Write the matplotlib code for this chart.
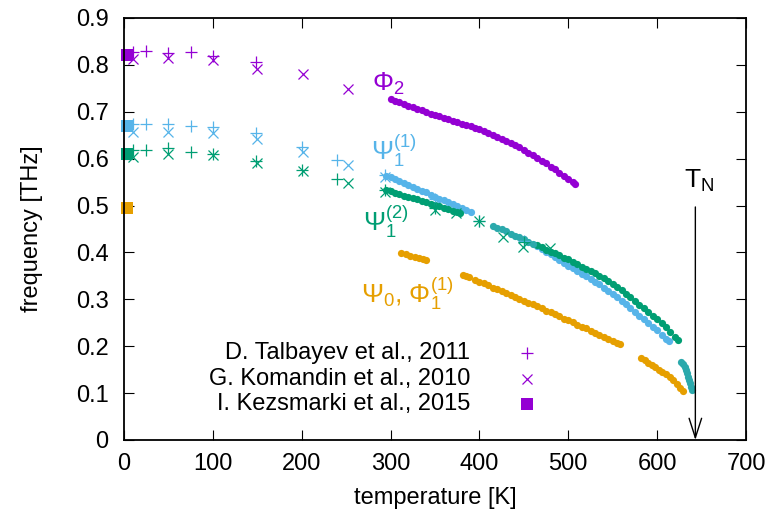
import matplotlib
matplotlib.use("Agg")
import matplotlib.pyplot as plt

plt.rcParams['font.family'] = ['Liberation Sans', 'DejaVu Sans']

PURPLE = '#9400D3'
BLUE = '#56B4E9'
GREEN = '#009E73'
ORANGE = '#E69F00'
TEAL = '#2BA9AC'

# ---- literature data: D. Talbayev et al. 2011 (+) ----
tal_phi2_T = [10, 25, 50, 75, 100, 149]
tal_phi2_f = [0.828, 0.830, 0.825, 0.827, 0.819, 0.806]
tal_psi11_T = [10, 25, 50, 75, 100, 149, 200, 240, 294, 350, 400, 450]
tal_psi11_f = [0.675, 0.673, 0.674, 0.669, 0.667, 0.654, 0.625, 0.598, 0.565, 0.515, 0.466, 0.425]
tal_psi12_T = [10, 25, 50, 75, 100, 149, 200, 240, 294, 350, 400, 450]
tal_psi12_f = [0.618, 0.619, 0.622, 0.615, 0.611, 0.595, 0.576, 0.556, 0.533, 0.494, 0.466, 0.423]

# ---- G. Komandin et al. 2010 (x) ----
kom_phi2_T = [10, 50, 100, 150, 201, 252]
kom_phi2_f = [0.812, 0.814, 0.810, 0.792, 0.780, 0.748]
kom_psi11_T = [10, 50, 100, 150, 201, 252, 294]
kom_psi11_f = [0.657, 0.657, 0.655, 0.641, 0.615, 0.586, 0.560]
kom_psi12_T = [10, 50, 100, 150, 201, 252, 294, 350, 374, 399, 427, 449, 479]
kom_psi12_f = [0.604, 0.610, 0.608, 0.591, 0.574, 0.549, 0.529, 0.490, 0.484, 0.466, 0.433, 0.412, 0.410]

# ---- I. Kezsmarki et al. 2015 (squares) ----
kez_T = [3, 3, 3, 3]
kez_f = [0.822, 0.670, 0.611, 0.495]
kez_colors = [PURPLE, BLUE, GREEN, ORANGE]

# ---- measured modes (dots) ----
phi2_T = [300, 305, 310, 315, 320, 325, 330, 335, 340, 345, 350, 355, 360, 365,
          370, 375, 380, 385, 390, 395, 400, 405, 410, 415, 420, 425, 430, 435,
          440, 445, 450, 455, 460, 465, 470, 475, 480, 485, 490, 495, 500, 505, 508]
phi2_f = [0.727, 0.723, 0.720, 0.716, 0.713, 0.710, 0.706, 0.703, 0.699, 0.696,
          0.693, 0.690, 0.687, 0.684, 0.681, 0.678, 0.675, 0.672, 0.669, 0.666,
          0.663, 0.659, 0.655, 0.651, 0.647, 0.643, 0.638, 0.634, 0.629, 0.624,
          0.619, 0.613, 0.608, 0.602, 0.596, 0.590, 0.583, 0.577, 0.570, 0.563,
          0.556, 0.550, 0.546]

psi11_a_T = [295, 300, 305, 310, 315, 320, 325, 330, 335, 340, 345, 350, 355,
             360, 365, 370, 375, 380, 385, 390]
psi11_a_f = [0.564, 0.560, 0.556, 0.552, 0.548, 0.544, 0.540, 0.536, 0.532,
             0.528, 0.523, 0.519, 0.515, 0.511, 0.507, 0.503, 0.499, 0.495,
             0.491, 0.487]
psi11_b_T = [465, 470, 475, 480, 485, 490, 495, 500, 505, 510, 515, 520, 525,
             530, 535, 540, 545, 550, 555, 560, 565, 570, 575, 580, 585, 590,
             595, 600, 605, 610, 613]
psi11_b_f = [0.413, 0.407, 0.402, 0.396, 0.390, 0.384, 0.378, 0.372, 0.367,
             0.361, 0.355, 0.350, 0.344, 0.338, 0.332, 0.325, 0.318, 0.311,
             0.304, 0.296, 0.289, 0.281, 0.273, 0.265, 0.258, 0.250, 0.242,
             0.234, 0.225, 0.216, 0.211]

psi12_a_T = [295, 300, 305, 310, 315, 320, 325, 330, 335, 340, 345, 350, 355,
             360, 365, 370, 375, 378]
psi12_a_f = [0.533, 0.530, 0.527, 0.524, 0.521, 0.519, 0.516, 0.513, 0.510,
             0.507, 0.504, 0.501, 0.498, 0.495, 0.492, 0.489, 0.487, 0.485]
psi12_b_T = [465, 470, 475, 480, 485, 490, 495, 500, 505, 510, 515, 520, 525,
             530, 535, 540, 545, 550, 555, 560, 565, 570, 575, 580, 585, 590,
             595, 600, 605, 610, 615, 620, 623]
psi12_b_f = [0.415, 0.411, 0.406, 0.402, 0.398, 0.394, 0.389, 0.385, 0.380,
             0.375, 0.370, 0.365, 0.360, 0.356, 0.350, 0.345, 0.339, 0.333,
             0.326, 0.319, 0.312, 0.304, 0.296, 0.288, 0.281, 0.273, 0.265,
             0.257, 0.249, 0.240, 0.230, 0.220, 0.214]

# overlapping psi1 branches (blue + green)
psi1_merged_a_T = [415, 420, 425, 430, 435, 440, 445, 450, 455, 460]
psi1_merged_a_f = [0.457, 0.453, 0.449, 0.445, 0.440, 0.436, 0.432, 0.428, 0.423, 0.419]
psi1_merged_b_T = [627, 629, 631, 633, 634, 635, 636, 637, 638, 639]
psi1_merged_b_f = [0.167, 0.163, 0.156, 0.149, 0.142, 0.135, 0.128, 0.121, 0.114, 0.107]

psi0_a_T = [312, 317, 322, 327, 332, 337, 340]
psi0_a_f = [0.398, 0.396, 0.393, 0.390, 0.388, 0.385, 0.383]
psi0_b_T = [382, 385, 388, 395, 400, 405, 410, 415, 420, 425, 430, 435, 440,
            445, 450, 455, 460, 465, 470, 475, 480, 485, 490, 495, 500, 505,
            510, 515, 520, 525, 530, 535, 540, 545, 550, 555, 558]
psi0_b_f = [0.352, 0.350, 0.348, 0.342, 0.338, 0.334, 0.330, 0.325, 0.321,
            0.317, 0.313, 0.309, 0.305, 0.301, 0.297, 0.293, 0.289, 0.285,
            0.281, 0.276, 0.272, 0.268, 0.264, 0.259, 0.255, 0.251, 0.246,
            0.242, 0.238, 0.233, 0.229, 0.225, 0.220, 0.216, 0.212, 0.207, 0.205]
psi0_c_T = [582, 586, 590, 594, 598, 602, 606, 610, 614, 618, 622, 626, 629]
psi0_c_f = [0.174, 0.170, 0.165, 0.160, 0.155, 0.150, 0.145, 0.140, 0.135,
            0.128, 0.120, 0.111, 0.104]

T_N = 643
legend_labels = ['D. Talbayev et al., 2011', 'G. Komandin et al., 2010',
                 'I. Kezsmarki et al., 2015']

fig = plt.figure(figsize=(7.74, 5.19), dpi=100)
ax = fig.add_axes([124 / 774, 79 / 519, 622 / 774, 422 / 519])

dot = dict(linestyle='none', marker='o', markersize=5.2, markeredgewidth=0)
for (T, f, c) in [(phi2_T, phi2_f, PURPLE),
                  (psi11_a_T, psi11_a_f, BLUE), (psi11_b_T, psi11_b_f, BLUE),
                  (psi12_a_T, psi12_a_f, GREEN), (psi12_b_T, psi12_b_f, GREEN),
                  (psi1_merged_a_T, psi1_merged_a_f, TEAL),
                  (psi1_merged_b_T, psi1_merged_b_f, TEAL),
                  (psi0_a_T, psi0_a_f, ORANGE), (psi0_b_T, psi0_b_f, ORANGE),
                  (psi0_c_T, psi0_c_f, ORANGE)]:
    ax.plot(T, f, color=c, **dot)

plus = dict(linestyle='none', marker='+', markersize=8.5, markeredgewidth=0.9)
cross = dict(linestyle='none', marker='x', markersize=7.5, markeredgewidth=0.9)
ax.plot(tal_phi2_T, tal_phi2_f, color=PURPLE, **plus)
ax.plot(tal_psi11_T, tal_psi11_f, color=BLUE, **plus)
ax.plot(tal_psi12_T, tal_psi12_f, color=GREEN, **plus)
ax.plot(kom_phi2_T, kom_phi2_f, color=PURPLE, **cross)
ax.plot(kom_psi11_T, kom_psi11_f, color=BLUE, **cross)
ax.plot(kom_psi12_T, kom_psi12_f, color=GREEN, **cross)
for T, f, c in zip(kez_T, kez_f, kez_colors):
    ax.plot([T], [f], linestyle='none', marker='s', markersize=8.5,
            markeredgewidth=0, color=c, clip_on=False)

# T_N arrow
ax.annotate('', xy=(T_N, 0.0), xytext=(T_N, 0.497),
            arrowprops=dict(arrowstyle='->,head_length=1.4,head_width=0.45',
                            color='black', lw=1.0, shrinkA=0, shrinkB=0))
ax.text(630, 0.537, r'$\mathregular{T_N}$', fontsize=19, color='black',
        ha='left', va='baseline')

# mode labels
lab_fs = 19
ax.text(279, 0.744, r'$\mathregular{\Phi_2}$', color=PURPLE, fontsize=lab_fs,
        ha='left', va='baseline')
ax.text(278, 0.597, r'$\mathregular{\Psi_1^{(1)}}$', color=BLUE, fontsize=lab_fs,
        ha='left', va='baseline')
ax.text(269, 0.446, r'$\mathregular{\Psi_1^{(2)}}$', color=GREEN, fontsize=lab_fs,
        ha='left', va='baseline')
ax.text(267, 0.292, r'$\mathregular{\Psi_0}$, $\mathregular{\Phi_1^{(1)}}$',
        color=ORANGE, fontsize=lab_fs, ha='left', va='baseline')

# legend (gnuplot style: right-aligned text, marker to the right)
leg_y = [0.206, 0.145, 0.085]
leg_markers = [('+', 8.5), ('x', 7.5), ('s', 8.5)]
for lab, yy, (m, ms) in zip(legend_labels, leg_y, leg_markers):
    ax.text(0.557, yy, lab, transform=ax.transAxes, ha='right', va='center',
            fontsize=17)
    ax.plot([0.648], [yy], transform=ax.transAxes, marker=m, markersize=ms,
            markeredgewidth=0.9 if m != 's' else 0, color=PURPLE,
            linestyle='none')

ax.set_xlim(0, 700)
ax.set_ylim(0, 0.9)
ax.set_xticks(range(0, 701, 100))
ax.set_yticks([i / 10 for i in range(10)])
ax.set_yticklabels(['0'] + [f'{i / 10:.1f}' for i in range(1, 10)])
ax.tick_params(direction='in', length=7.5, width=0.8, top=True, right=True,
               labelsize=17, pad=9)
ax.tick_params(axis='y', pad=11)
for s in ax.spines.values():
    s.set_linewidth(1.3)
ax.set_xlabel('temperature [K]', fontsize=17, labelpad=9)
ax.set_ylabel('frequency [THz]', fontsize=17, labelpad=24)

fig.savefig('out.png', dpi=100)
